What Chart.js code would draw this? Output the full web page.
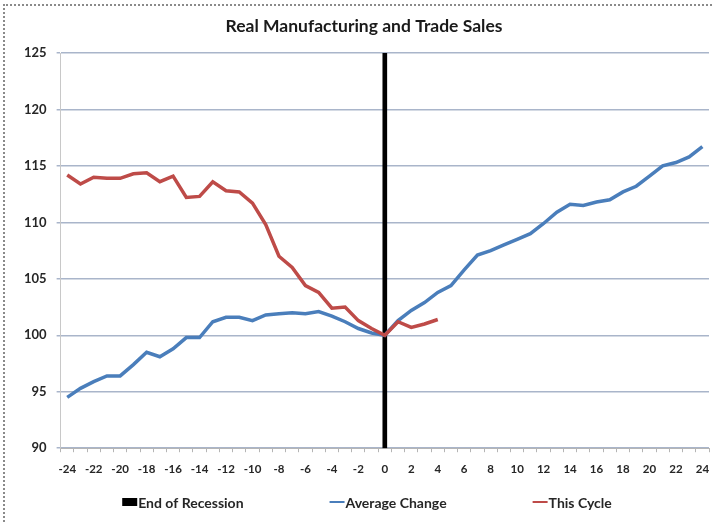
<!DOCTYPE html>
<html>
<head>
<meta charset="utf-8">
<script src="https://cdn.jsdelivr.net/npm/chart.js@4.4.1/dist/chart.umd.min.js"></script>
<style>
    html, body { margin: 0; padding: 0; background: #fff; }
    #wrap { position: relative; width: 714px; height: 523px; }
    #frame {
        position: absolute; left: 3px; top: 4px; width: 720px; height: 530px;
        border-left: 2px dotted #8a8a8a; border-top: 2px dotted #8a8a8a;
        box-sizing: border-box; pointer-events: none;
    }
</style>
</head>
<body>
<div id="wrap">
    <canvas id="salesChart" width="714" height="523"></canvas>
    <div id="frame"></div>
</div>
<script>
// months relative to the end of recession
const months = [-24, -23, -22, -21, -20, -19, -18, -17, -16, -15, -14, -13, -12, -11, -10, -9, -8, -7, -6, -5, -4, -3, -2, -1,
    0, 1, 2, 3, 4, 5, 6, 7, 8, 9, 10, 11, 12, 13, 14, 15, 16, 17, 18, 19, 20, 21, 22, 23, 24];

// index, trough = 100
const averageChange = [94.5, 95.3, 95.9, 96.4, 96.4, 97.4, 98.5, 98.1, 98.8, 99.8, 99.8, 101.2, 101.6, 101.6, 101.3, 101.8,
    101.9, 102.0, 101.9, 102.1, 101.7, 101.2, 100.6, 100.2,
    100.0, 101.3, 102.2, 102.9, 103.8, 104.4, 105.8, 107.1, 107.5, 108.0, 108.5, 109.0, 109.9, 110.9, 111.6, 111.5,
    111.8, 112.0, 112.7, 113.2, 114.1, 115.0, 115.3, 115.8, 116.7];

const thisCycle = [114.2, 113.4, 114.0, 113.9, 113.9, 114.3, 114.4, 113.6, 114.1, 112.2, 112.3, 113.6, 112.8, 112.7,
    111.7, 109.8, 107.0, 106.0, 104.4, 103.8, 102.4, 102.5, 101.3, 100.6,
    100.0, 101.2, 100.7, 101.0, 101.4];

const recessionMonth = 0;
const recessionSpan = [90, 125];

const yMin = 90, yMax = 125, yStep = 5;

const recessionBar = months.map(m => (m === recessionMonth ? recessionSpan : null));

// legend row drawn under the axis
const legendRow = {
    id: 'legendRow',
    afterDraw(chart) {
        const ctx = chart.ctx;
        const y = 502;
        const gap = 86;
        ctx.save();
        ctx.font = 'bold 14px Lato';
        ctx.textBaseline = 'middle';
        const items = chart.data.datasets.map(ds => ({
            text: ds.label,
            color: ds.type === 'bar' ? ds.backgroundColor : ds.borderColor,
            kind: ds.type
        }));
        const widths = items.map(it => 16 + ctx.measureText(it.text).width);
        const total = widths.reduce((a, b) => a + b, 0) + gap * (items.length - 1);
        let x = 367 - total / 2;
        items.forEach((it, i) => {
            if (it.kind === 'bar') {
                ctx.fillStyle = it.color;
                ctx.fillRect(x, y - 4, 15, 8);
            } else {
                ctx.strokeStyle = it.color;
                ctx.lineWidth = 2;
                ctx.beginPath();
                ctx.moveTo(x, y);
                ctx.lineTo(x + 15, y);
                ctx.stroke();
            }
            ctx.fillStyle = '#262626';
            ctx.fillText(it.text, x + 16, y + 1);
            x += widths[i] + gap;
        });
        ctx.restore();
    }
};

const ctx = document.getElementById('salesChart').getContext('2d');

new Chart(ctx, {
    data: {
        labels: months.map(String),
        datasets: [
            {
                type: 'bar',
                label: 'End of Recession',
                data: recessionBar,
                backgroundColor: '#000000',
                barThickness: 4,
                order: 3
            },
            {
                type: 'line',
                label: 'Average Change',
                data: averageChange,
                borderColor: '#4a7ebb',
                borderWidth: 3.5,
                pointRadius: 0,
                tension: 0,
                order: 2
            },
            {
                type: 'line',
                label: 'This Cycle',
                data: thisCycle,
                borderColor: '#be4b48',
                borderWidth: 3.5,
                pointRadius: 0,
                tension: 0,
                order: 1
            }
        ]
    },
    options: {
        responsive: false,
        animation: false,
        layout: {
            padding: { left: 14, right: 0, top: 1, bottom: 37 }
        },
        scales: {
            x: {
                type: 'category',
                offset: true,
                // last label sits inside the offset, so keep the plot close to the edge
                afterFit: scale => { scale.paddingRight = 5; },
                grid: {
                    offset: true,
                    drawOnChartArea: false,
                    drawTicks: true,
                    tickLength: 4,
                    color: '#b5b5b5'
                },
                border: { color: '#b5b5b5', width: 1 },
                ticks: {
                    autoSkip: false,
                    maxRotation: 0,
                    padding: 10,
                    color: '#262626',
                    font: { family: 'Lato', size: 11.5, weight: 'bold' },
                    callback: function (val, i) {
                        return i % 2 === 0 ? this.getLabelForValue(val) : '';
                    }
                }
            },
            y: {
                min: yMin,
                max: yMax,
                grid: {
                    color: '#a9b5ca',
                    lineWidth: 1.5,
                    tickLength: 4
                },
                border: { color: '#c8c8c8', width: 1 },
                ticks: {
                    stepSize: yStep,
                    padding: 10,
                    color: '#262626',
                    font: { family: 'Lato', size: 13, weight: 'bold' }
                }
            }
        },
        plugins: {
            legend: { display: false },
            tooltip: { enabled: false },
            title: {
                display: true,
                text: 'Real Manufacturing and Trade Sales',
                color: '#1a1a1a',
                font: { family: 'Lato', size: 17.5, weight: 'bold' },
                padding: { top: 15, bottom: 16 }
            }
        }
    },
    plugins: [legendRow]
});
</script>
</body>
</html>
